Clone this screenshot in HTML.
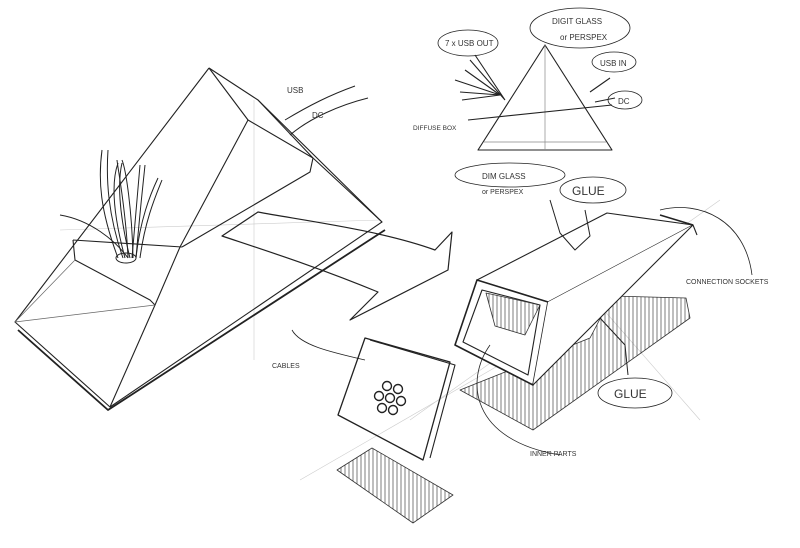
<!DOCTYPE html>
<html><head><meta charset="utf-8"><style>
html,body{margin:0;padding:0;background:#fff}
svg{display:block}
text{font-family:"Liberation Sans",sans-serif;font-size:8px;fill:#333}
</style></head><body>
<svg width="800" height="548" viewBox="0 0 800 548" xmlns="http://www.w3.org/2000/svg">
<defs>
<pattern id="h" width="4" height="4" patternUnits="userSpaceOnUse"><line x1="1" y1="0" x2="1" y2="4" stroke="#444" stroke-width="0.7"/></pattern>
</defs>
<g fill="none" stroke="#ccc" stroke-width="0.6">
<line x1="254" y1="100" x2="254" y2="360"/>
<line x1="60" y1="230" x2="380" y2="220"/>
<line x1="410" y1="420" x2="720" y2="200"/>
<line x1="300" y1="480" x2="560" y2="330"/>
<line x1="560" y1="260" x2="700" y2="420"/>
</g>
<g fill="none" stroke="#222" stroke-width="1.1" stroke-linejoin="round">
<!-- left pyramid -->
<path d="M209,68 L15,322 L110,407 L382,222 L313,158"/>
<path d="M209,68 L258,100 L382,222" />
<path d="M209,68 L248,120 L180,247 L155,305 L110,407"/>
<path d="M248,120 L313,158 L310,172 L182,247"/>
<path d="M258,100 L313,158"/>
<path d="M73,240 L182,247"/>
<path d="M73,240 L75,260 L150,300 L155,305"/>
<path d="M15,322 L75,260 M15,322 L155,305" stroke="#666" stroke-width="0.7"/>
<path d="M18,330 L108,410 L385,230" stroke-width="1.8"/>
<!-- cables -->
<g stroke-width="1">
<path d="M118,258 C100,210 98,180 102,150 M123,258 C108,215 106,180 108,150"/>
<path d="M125,258 C112,210 112,180 118,163 M130,258 C118,210 118,180 122,163"/>
<path d="M128,258 C126,210 118,170 117,160 M133,258 C132,210 126,170 122,160"/>
<path d="M132,258 C136,210 138,185 140,165 M136,258 C140,210 143,185 145,165"/>
<path d="M136,258 C140,220 150,195 158,178 M140,258 C145,220 156,195 162,180"/>
<path d="M128,258 C115,240 90,220 60,215"/>
<ellipse cx="126" cy="258" rx="10" ry="5"/>
<path d="M285,120 C310,105 330,95 355,86 M290,135 C310,118 340,105 368,98"/>
</g>
<!-- arrow -->
<path d="M222,236 L258,212 C300,220 380,230 435,250 L452,232 L448,270 L350,320 L378,292 C320,268 270,252 222,236 Z" stroke-width="1.2"/>
<!-- triangle -->
<path d="M545,45 L478,150 L612,150 Z"/>
<path d="M484,142 L606,142 M545,45 L545,150" stroke="#888" stroke-width="0.7"/>
<path d="M468,120 L612,105" />
<path d="M500,95 L465,70 M500,95 L455,80 M500,95 L460,92 M505,100 L470,60 M500,95 L462,100 M505,100 L475,55"/>
<path d="M590,92 L610,78 M595,102 L615,98"/>
<!-- box shadow -->
<path d="M460,390 L533,430 L690,318 L686,298 L612,296 L590,338 Z" fill="url(#h)" stroke="#333" stroke-width="0.8"/>
<!-- box -->
<path d="M477,280 L607,213 L693,225 L548,302 Z" fill="#fff"/>
<path d="M477,280 L548,302 L533,385 L455,345 Z" stroke-width="1.6" fill="#fff"/>
<path d="M548,302 L693,225 L533,385 Z" fill="#fff" stroke="none"/>
<path d="M482,290 L540,305 L528,375 L463,342 Z"/>
<path d="M533,385 L693,225 L697,235"/>
<path d="M660,215 L693,225" stroke-width="1.5"/>
<path d="M486,293 L495,326 L525,335 L540,305 Z" fill="url(#h)" stroke="#333" stroke-width="0.8"/>
<path d="M550,200 L560,233 L575,250 L590,236 L585,210" stroke-width="1"/>
<path d="M600,318 L625,345 L628,375" stroke-width="1"/>
<!-- small box -->
<path d="M365,338 L450,362 L423,460 L338,415 Z" stroke-width="1.3"/>
<path d="M370,340 L455,365 L430,458" />
<g stroke-width="1.4">
<circle cx="387" cy="386" r="4.5"/><circle cx="398" cy="389" r="4.5"/><circle cx="379" cy="396" r="4.5"/>
<circle cx="390" cy="398" r="4.5"/><circle cx="401" cy="401" r="4.5"/><circle cx="382" cy="408" r="4.5"/><circle cx="393" cy="410" r="4.5"/>
</g>
<path d="M337,470 L372,448 L453,495 L413,523 Z" fill="url(#h)" stroke="#333" stroke-width="0.8"/>
<!-- ellipses -->
<ellipse cx="580" cy="28" rx="50" ry="20" stroke-width="0.8"/>
<ellipse cx="468" cy="43" rx="30" ry="13" stroke-width="0.8"/>
<ellipse cx="614" cy="62" rx="22" ry="10" stroke-width="0.8"/>
<ellipse cx="625" cy="100" rx="17" ry="9" stroke-width="0.8"/>
<ellipse cx="510" cy="175" rx="55" ry="12" stroke-width="0.8"/>
<ellipse cx="593" cy="190" rx="33" ry="13" stroke-width="0.8"/>
<ellipse cx="635" cy="393" rx="37" ry="15" stroke-width="0.8"/>
<path d="M292,330 C300,345 330,352 365,360" stroke-width="0.8"/>
<path d="M660,210 C700,200 745,220 752,275" stroke-width="0.8"/>
<path d="M490,345 C465,380 470,440 560,455" stroke-width="0.8"/>
</g>
<text x="287" y="93">USB</text>
<text x="312" y="118">DC</text>
<text x="413" y="130" style="font-size:6.5px">DIFFUSE BOX</text>
<text x="552" y="24">DIGIT GLASS</text>
<text x="560" y="40">or PERSPEX</text>
<text x="445" y="46">7 x USB OUT</text>
<text x="600" y="66">USB IN</text>
<text x="618" y="104">DC</text>
<text x="482" y="179">DIM GLASS</text>
<text x="482" y="194" style="font-size:7px">or PERSPEX</text>
<text x="572" y="195" style="font-size:12px">GLUE</text>
<text x="614" y="398" style="font-size:12px">GLUE</text>
<text x="686" y="284" style="font-size:7px">CONNECTION SOCKETS</text>
<text x="272" y="368" style="font-size:7px">CABLES</text>
<text x="530" y="456" style="font-size:7px">INNER PARTS</text>
</svg>
</body></html>
